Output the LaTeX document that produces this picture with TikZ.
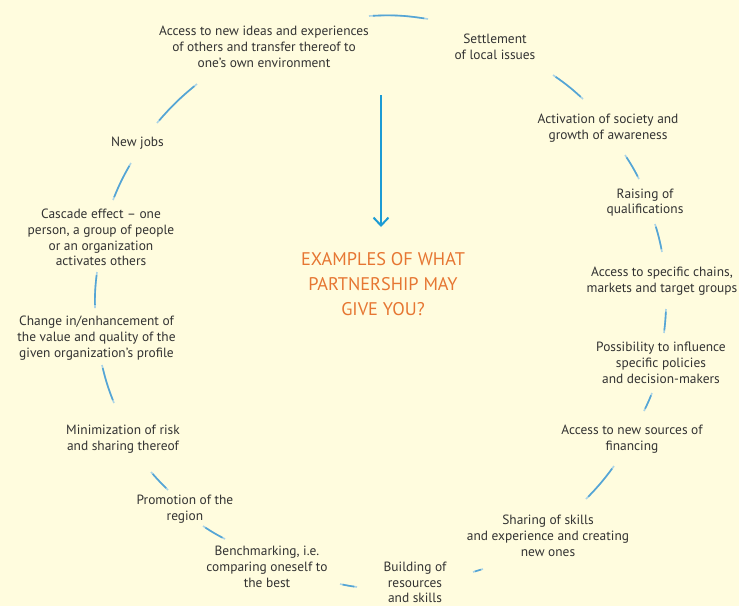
\documentclass[tikz,border=0pt]{standalone}
\usepackage{fontspec}
\setmainfont{PT Sans}
\usetikzlibrary{arrows.meta}
\definecolor{bg}{RGB}{255,252,222}
\definecolor{txt}{RGB}{50,50,50}
\definecolor{arcl}{RGB}{172,212,230}
\definecolor{arcd}{RGB}{85,165,212}
\definecolor{arrowblue}{RGB}{28,155,212}
\definecolor{ttlcol}{RGB}{230,118,50}
\begin{document}
\begin{tikzpicture}[x=1pt,y=-1pt,
  lbl/.style={align=center,text=txt,font=\fontsize{13.4}{15.7}\selectfont,inner sep=0pt},
  ttl/.style={align=center,text=ttlcol,font=\fontsize{18.3}{25}\selectfont,inner sep=0pt},
  conn/.style={draw=arcl,line width=1.6pt},
  conncore/.style={draw=arcd,line width=1.6pt,shorten <=#1,shorten >=#1},
]
\fill[bg] (0,0) rectangle (739,606);
\useasboundingbox (0,0) rectangle (739,606);

% labels
\node[lbl] (access) at (264,47) {Access to new ideas and experiences\\of others and transfer thereof to\\one’s own environment};
\node[lbl] (settle) at (495,46.5) {Settlement\\of local issues};
\node[lbl] (activ) at (608,128) {Activation of society and\\growth of awareness};
\node[lbl] (raise) at (645,202.5) {Raising of\\qualifications};
\node[lbl] (chains) at (662,281) {Access to specific chains,\\markets and target groups};
\node[lbl] (poss) at (661,363) {Possibility to influence\\specific policies\\and decision-makers};
\node[lbl] (fin) at (632,439) {Access to new sources of\\financing};
\node[lbl] (share) at (548,536) {Sharing of skills\\and experience and creating\\new ones};
\node[lbl] (build) at (415,582.5) {Building of\\resources\\and skills};
\node[lbl] (bench) at (267,567) {Benchmarking, i.e.\\comparing oneself to\\the best};
\node[lbl] (promo) at (185,509) {Promotion of the\\region};
\node[lbl] (mini) at (123,439) {Minimization of risk\\and sharing thereof};
\node[lbl] (change) at (96.5,338) {Change in/enhancement of\\the value and quality of the\\given organization’s profile};
\node[lbl] (casc) at (101,237.5) {Cascade effect – one\\person, a group of people\\or an organization\\activates others};
\node[lbl] (jobs) at (137.5,143) {New jobs};
\node[ttl] (title) at (383,284) {EXAMPLES OF WHAT\\PARTNERSHIP MAY\\GIVE YOU?};

% connector end points
\coordinate (a1) at (369,16);  \coordinate (a2) at (428,19);
\coordinate (b1) at (553,75);  \coordinate (b2) at (583,99);
\coordinate (c1) at (625,155); \coordinate (c2) at (639,179);
\coordinate (d1) at (655,224); \coordinate (d2) at (662,252);
\coordinate (e1) at (666,309); \coordinate (e2) at (664,333);
\coordinate (f1) at (652,393); \coordinate (f2) at (644,411);
\coordinate (g1) at (614,466); \coordinate (g2) at (586,499);
\coordinate (h1) at (483,569); \coordinate (h2) at (473,572);
\coordinate (i1) at (357,587); \coordinate (i2) at (340,584);
\coordinate (j1) at (225,539); \coordinate (j2) at (203,526);
\coordinate (k1) at (168,490); \coordinate (k2) at (151,472);
\coordinate (l1) at (114,403); \coordinate (l2) at (102,365);
\coordinate (m1) at (95,308);  \coordinate (m2) at (97,272);
\coordinate (n1) at (113,200); \coordinate (n2) at (131,163);
\coordinate (o1) at (157,123); \coordinate (o2) at (197,84);

\foreach \p/\q/\b in {a1/a2/6,b1/b2/4,c1/c2/3,d1/d2/3,e1/e2/2,f1/f2/2,g1/g2/4,h1/h2/0,i1/i2/2,j1/j2/3,k1/k2/2,l1/l2/4,m1/m2/4,n1/n2/4,o1/o2/5}{
  \draw[conn] (\p) to[bend left=\b] (\q);
  \draw[conncore=0.3*\b pt+2pt] (\p) to[bend left=\b] (\q);
}

% central arrow
\coordinate (arrtop) at (381,95);
\coordinate (arrtip) at (381,227);
\draw[arrowblue,line width=2pt,-{Straight Barb[length=8pt,width=15pt]}] (arrtop) -- (arrtip);
\end{tikzpicture}
\end{document}
